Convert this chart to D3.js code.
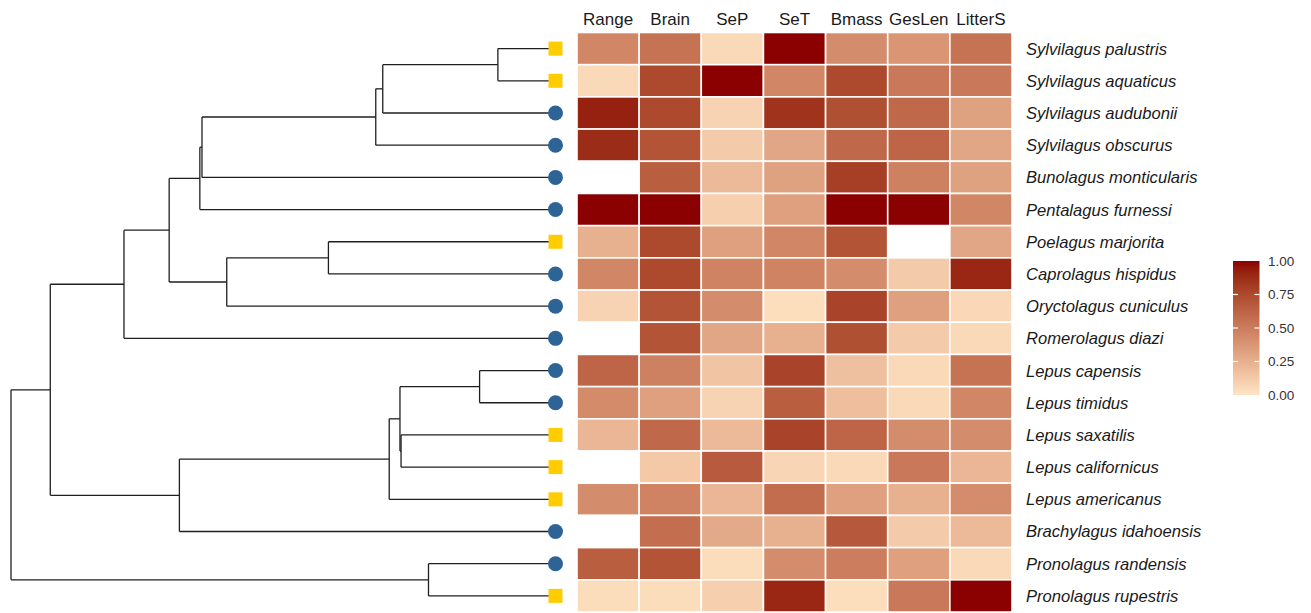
<!DOCTYPE html>
<html>
<head>
<meta charset="utf-8">
<script src="https://cdn.jsdelivr.net/npm/d3@7"></script>
<style>
  html, body { margin: 0; padding: 0; background: #ffffff; }
  svg { display: block; }
</style>
</head>
<body>
<svg id="chart" width="1311" height="613"></svg>
<script>
// ---------------- DATA ----------------
const traits = ["Range", "Brain", "SeP", "SeT", "Bmass", "GesLen", "LitterS"];

const species = [
  "Sylvilagus palustris", "Sylvilagus aquaticus", "Sylvilagus audubonii", "Sylvilagus obscurus",
  "Bunolagus monticularis", "Pentalagus furnessi", "Poelagus marjorita", "Caprolagus hispidus",
  "Oryctolagus cuniculus", "Romerolagus diazi", "Lepus capensis", "Lepus timidus",
  "Lepus saxatilis", "Lepus californicus", "Lepus americanus", "Brachylagus idahoensis",
  "Pronolagus randensis", "Pronolagus rupestris"
];

// tip group (A = square marker, B = circle marker)
const tipGroup = ["A","A","B","B","B","B","A","B","B","B","B","B","A","A","A","B","B","A"];

// scaled trait values (0-1), null = missing
const rangeVals  = [0.45,0.05,0.92,0.88,null,1.00,0.25,0.45,0.08,null,0.62,0.43,0.22,null,0.42,null,0.65,0.04];
const brainVals  = [0.55,0.75,0.75,0.70,0.65,1.00,0.75,0.75,0.70,0.70,0.48,0.33,0.60,0.13,0.47,0.57,0.70,0.04];
const sePVals    = [0.05,1.00,0.08,0.12,0.20,0.10,0.33,0.47,0.42,0.30,0.15,0.08,0.20,0.67,0.22,0.28,0.04,0.10];
const seTVals    = [1.00,0.45,0.85,0.30,0.32,0.33,0.45,0.47,0.03,0.25,0.78,0.65,0.78,0.07,0.58,0.25,0.42,0.90];
const bmassVals  = [0.42,0.75,0.72,0.60,0.80,1.00,0.70,0.42,0.78,0.72,0.17,0.18,0.62,0.05,0.33,0.68,0.50,0.03];
const gesLenVals = [0.38,0.52,0.60,0.62,0.48,1.00,null,0.12,0.33,0.12,0.05,0.05,0.42,0.52,0.25,0.12,0.33,0.52];
const litterVals = [0.55,0.52,0.32,0.30,0.32,0.45,0.30,0.90,0.06,0.05,0.55,0.45,0.42,0.22,0.42,0.20,0.05,1.00];

const legendTicks = [0, 0.25, 0.5, 0.75, 1];

// phylogeny (branch lengths, tips at depth 100)
const newick = "(((((((((Sylvilagus palustris:9.5,Sylvilagus aquaticus:9.5):21.4,Sylvilagus audubonii:30.9):1.3,Sylvilagus obscurus:32.2):32.3,Bunolagus monticularis:64.5):0.4,Pentalagus furnessi:64.9):5.7,((Poelagus marjorita:41,Caprolagus hispidus:41):18.9,Oryctolagus cuniculus:59.9):10.7):8.4,Romerolagus diazi:79.0):13.7,((((Lepus capensis:12.9,Lepus timidus:12.9):14.8,(Lepus saxatilis:27.5,Lepus californicus:27.5):0.2):2.0,Lepus americanus:29.7):39.0,Brachylagus idahoensis:68.7):24.0):7.3,(Pronolagus randensis:22.4,Pronolagus rupestris:22.4):77.6);";

const traitSeries = [rangeVals, brainVals, sePVals, seTVals, bmassVals, gesLenVals, litterVals];

// ---------------- NEWICK PARSER ----------------
function parseNewick(s) {
  let i = 0;
  function parseNode() {
    const node = { children: [], name: "", length: 0 };
    if (s[i] === "(") {
      i++;
      node.children.push(parseNode());
      while (s[i] === ",") { i++; node.children.push(parseNode()); }
      i++; // ')'
    }
    let name = "";
    while (i < s.length && !":,);".includes(s[i])) name += s[i++];
    node.name = name.trim();
    if (s[i] === ":") {
      i++;
      let num = "";
      while (i < s.length && !",);".includes(s[i])) num += s[i++];
      node.length = +num;
    }
    if (node.children.length === 0) delete node.children;
    return node;
  }
  return parseNode();
}

// ---------------- LAYOUT ----------------
const svg = d3.select("#chart");
const textColor = "#1a1a1a";

const yBand = d3.scaleBand().domain(species).range([32.5, 612]).paddingInner(0).paddingOuter(0);
const xBand = d3.scaleBand().domain(traits).range([577, 1012]);
const xTree = d3.scaleLinear().domain([0, 100]).range([11, 549]);

const color = d3.scaleLinear().domain([0, 1]).range(["#FFE4C4", "#8B0000"]).interpolate(d3.interpolateLab);

// ---------------- TREE ----------------
const root = d3.hierarchy(parseNewick(newick));
root.eachBefore(n => { n.depthVal = n.parent ? n.parent.depthVal + n.data.length : 0; });
root.eachAfter(n => {
  if (!n.children) n.yPos = yBand(n.data.name) + yBand.bandwidth() / 2;
  else n.yPos = d3.mean(n.children, c => c.yPos);
});

const treeG = svg.append("g").attr("stroke", "#1f1f1f").attr("stroke-width", 1.3).attr("fill", "none");
root.descendants().forEach(n => {
  if (n.children) {
    const ys = n.children.map(c => c.yPos);
    treeG.append("line")
      .attr("x1", xTree(n.depthVal)).attr("x2", xTree(n.depthVal))
      .attr("y1", d3.min(ys)).attr("y2", d3.max(ys));
  }
  if (n.parent) {
    treeG.append("line")
      .attr("x1", xTree(n.parent.depthVal)).attr("x2", xTree(n.depthVal) + (n.children ? 0 : 4))
      .attr("y1", n.yPos).attr("y2", n.yPos);
  }
});

// tip markers
const leaves = root.leaves();
const markG = svg.append("g");
leaves.forEach(l => {
  const idx = species.indexOf(l.data.name);
  const cx = xTree(l.depthVal) + 6.5;
  const cy = l.yPos;
  if (tipGroup[idx] === "A") {
    markG.append("rect").attr("x", cx - 7).attr("y", cy - 7).attr("width", 14).attr("height", 14)
      .attr("fill", "#FFCC00");
  } else {
    markG.append("circle").attr("cx", cx).attr("cy", cy).attr("r", 7.5).attr("fill", "#2E6396");
  }
});

// ---------------- HEATMAP ----------------
const cells = [];
species.forEach((sp, i) => traits.forEach((t, j) => cells.push({ sp, t, v: traitSeries[j][i] })));

svg.append("g").selectAll("rect").data(cells).join("rect")
  .attr("x", d => xBand(d.t)).attr("y", d => yBand(d.sp))
  .attr("width", xBand.bandwidth()).attr("height", yBand.bandwidth())
  .attr("fill", d => d.v == null ? "#FFFFFF" : color(d.v))
  .attr("stroke", "#FFFFFF").attr("stroke-width", 1.6);

// column headers
svg.append("g").selectAll("text").data(traits).join("text")
  .attr("x", d => xBand(d) + xBand.bandwidth() / 2).attr("y", 25)
  .attr("text-anchor", "middle")
  .attr("font-family", "Liberation Sans, Arial, sans-serif").attr("font-size", 17)
  .attr("fill", textColor).text(d => d);

// species labels
svg.append("g").selectAll("text").data(species).join("text")
  .attr("x", 1026).attr("y", d => yBand(d) + yBand.bandwidth() / 2)
  .attr("dy", "0.36em")
  .attr("font-family", "Liberation Sans, Arial, sans-serif").attr("font-size", 16.6)
  .attr("font-style", "italic")
  .attr("fill", textColor).text(d => d);

// ---------------- LEGEND ----------------
const legY = d3.scaleLinear().domain([0, 1]).range([395, 261]);
const defs = svg.append("defs");
const grad = defs.append("linearGradient").attr("id", "lg").attr("x1", 0).attr("y1", 1).attr("x2", 0).attr("y2", 0);
d3.range(0, 1.0001, 0.05).forEach(t => grad.append("stop").attr("offset", t).attr("stop-color", color(t)));

const legX0 = 1233, legW = 26.5;
svg.append("rect").attr("x", legX0).attr("y", legY(1)).attr("width", legW).attr("height", legY(0) - legY(1))
  .attr("fill", "url(#lg)");

const tickG = svg.append("g").attr("stroke", "#FFFFFF").attr("stroke-width", 1.2);
legendTicks.forEach(t => {
  if (t === 0 || t === 1) return;
  tickG.append("line").attr("x1", legX0).attr("x2", legX0 + 5).attr("y1", legY(t)).attr("y2", legY(t));
  tickG.append("line").attr("x1", legX0 + legW - 5).attr("x2", legX0 + legW).attr("y1", legY(t)).attr("y2", legY(t));
});

svg.append("g").selectAll("text").data(legendTicks).join("text")
  .attr("x", 1268).attr("y", d => legY(d)).attr("dy", "0.36em")
  .attr("font-family", "Liberation Sans, Arial, sans-serif").attr("font-size", 13.5)
  .attr("fill", "#333333").text(d => d3.format(".2f")(d));
</script>
</body>
</html>
